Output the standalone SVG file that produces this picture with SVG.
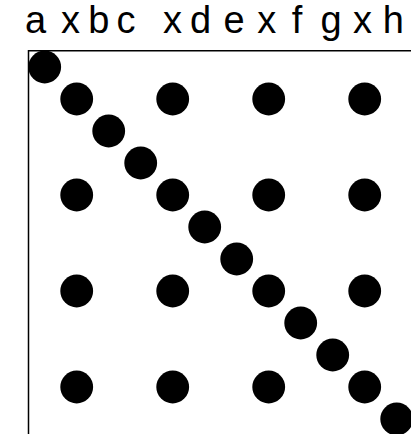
<svg xmlns="http://www.w3.org/2000/svg" width="411" height="434" viewBox="0 0 411 434">
<style>
.lbl{font-family:"Liberation Sans",Arial,sans-serif;font-size:38px;fill:#000;text-anchor:middle}
.d{fill:#000}
.frame{fill:none;stroke:#000;stroke-width:1.5}
</style>
<rect width="411" height="434" fill="#fff"/>
<g id="labels">
<text class="lbl" x="35.5" y="33">a</text>
<text class="lbl" x="70.5" y="33">x</text>
<text class="lbl" x="98.7" y="33">b</text>
<text class="lbl" x="126" y="33">c</text>
<text class="lbl" x="172.5" y="33">x</text>
<text class="lbl" x="200.5" y="33">d</text>
<text class="lbl" x="234" y="33">e</text>
<text class="lbl" x="266.7" y="33">x</text>
<text class="lbl" x="297" y="33">f</text>
<text class="lbl" x="331" y="33">g</text>
<text class="lbl" x="362.5" y="33">x</text>
<text class="lbl" x="393.3" y="33">h</text>
</g>
<g id="frame"><path class="frame" d="M28.5,434 V50.75 H411"/></g>
<g id="diagonal">
<circle class="d" cx="44.7" cy="67" r="16.4"/>
<circle class="d" cx="76.7" cy="99" r="16.4"/>
<circle class="d" cx="108.7" cy="131" r="16.4"/>
<circle class="d" cx="140.7" cy="163" r="16.4"/>
<circle class="d" cx="172.7" cy="195" r="16.4"/>
<circle class="d" cx="204.7" cy="227" r="16.4"/>
<circle class="d" cx="236.7" cy="259" r="16.4"/>
<circle class="d" cx="268.7" cy="291" r="16.4"/>
<circle class="d" cx="300.7" cy="323" r="16.4"/>
<circle class="d" cx="332.7" cy="355" r="16.4"/>
<circle class="d" cx="364.7" cy="387" r="16.4"/>
<circle class="d" cx="396.7" cy="419" r="16.4"/>
</g>
<g id="grid">
<circle class="d" cx="172.7" cy="99" r="16.4"/>
<circle class="d" cx="268.7" cy="99" r="16.4"/>
<circle class="d" cx="364.7" cy="99" r="16.4"/>
<circle class="d" cx="76.7" cy="195" r="16.4"/>
<circle class="d" cx="268.7" cy="195" r="16.4"/>
<circle class="d" cx="364.7" cy="195" r="16.4"/>
<circle class="d" cx="76.7" cy="291" r="16.4"/>
<circle class="d" cx="172.7" cy="291" r="16.4"/>
<circle class="d" cx="364.7" cy="291" r="16.4"/>
<circle class="d" cx="76.7" cy="387" r="16.4"/>
<circle class="d" cx="172.7" cy="387" r="16.4"/>
<circle class="d" cx="268.7" cy="387" r="16.4"/>
</g>
</svg>
